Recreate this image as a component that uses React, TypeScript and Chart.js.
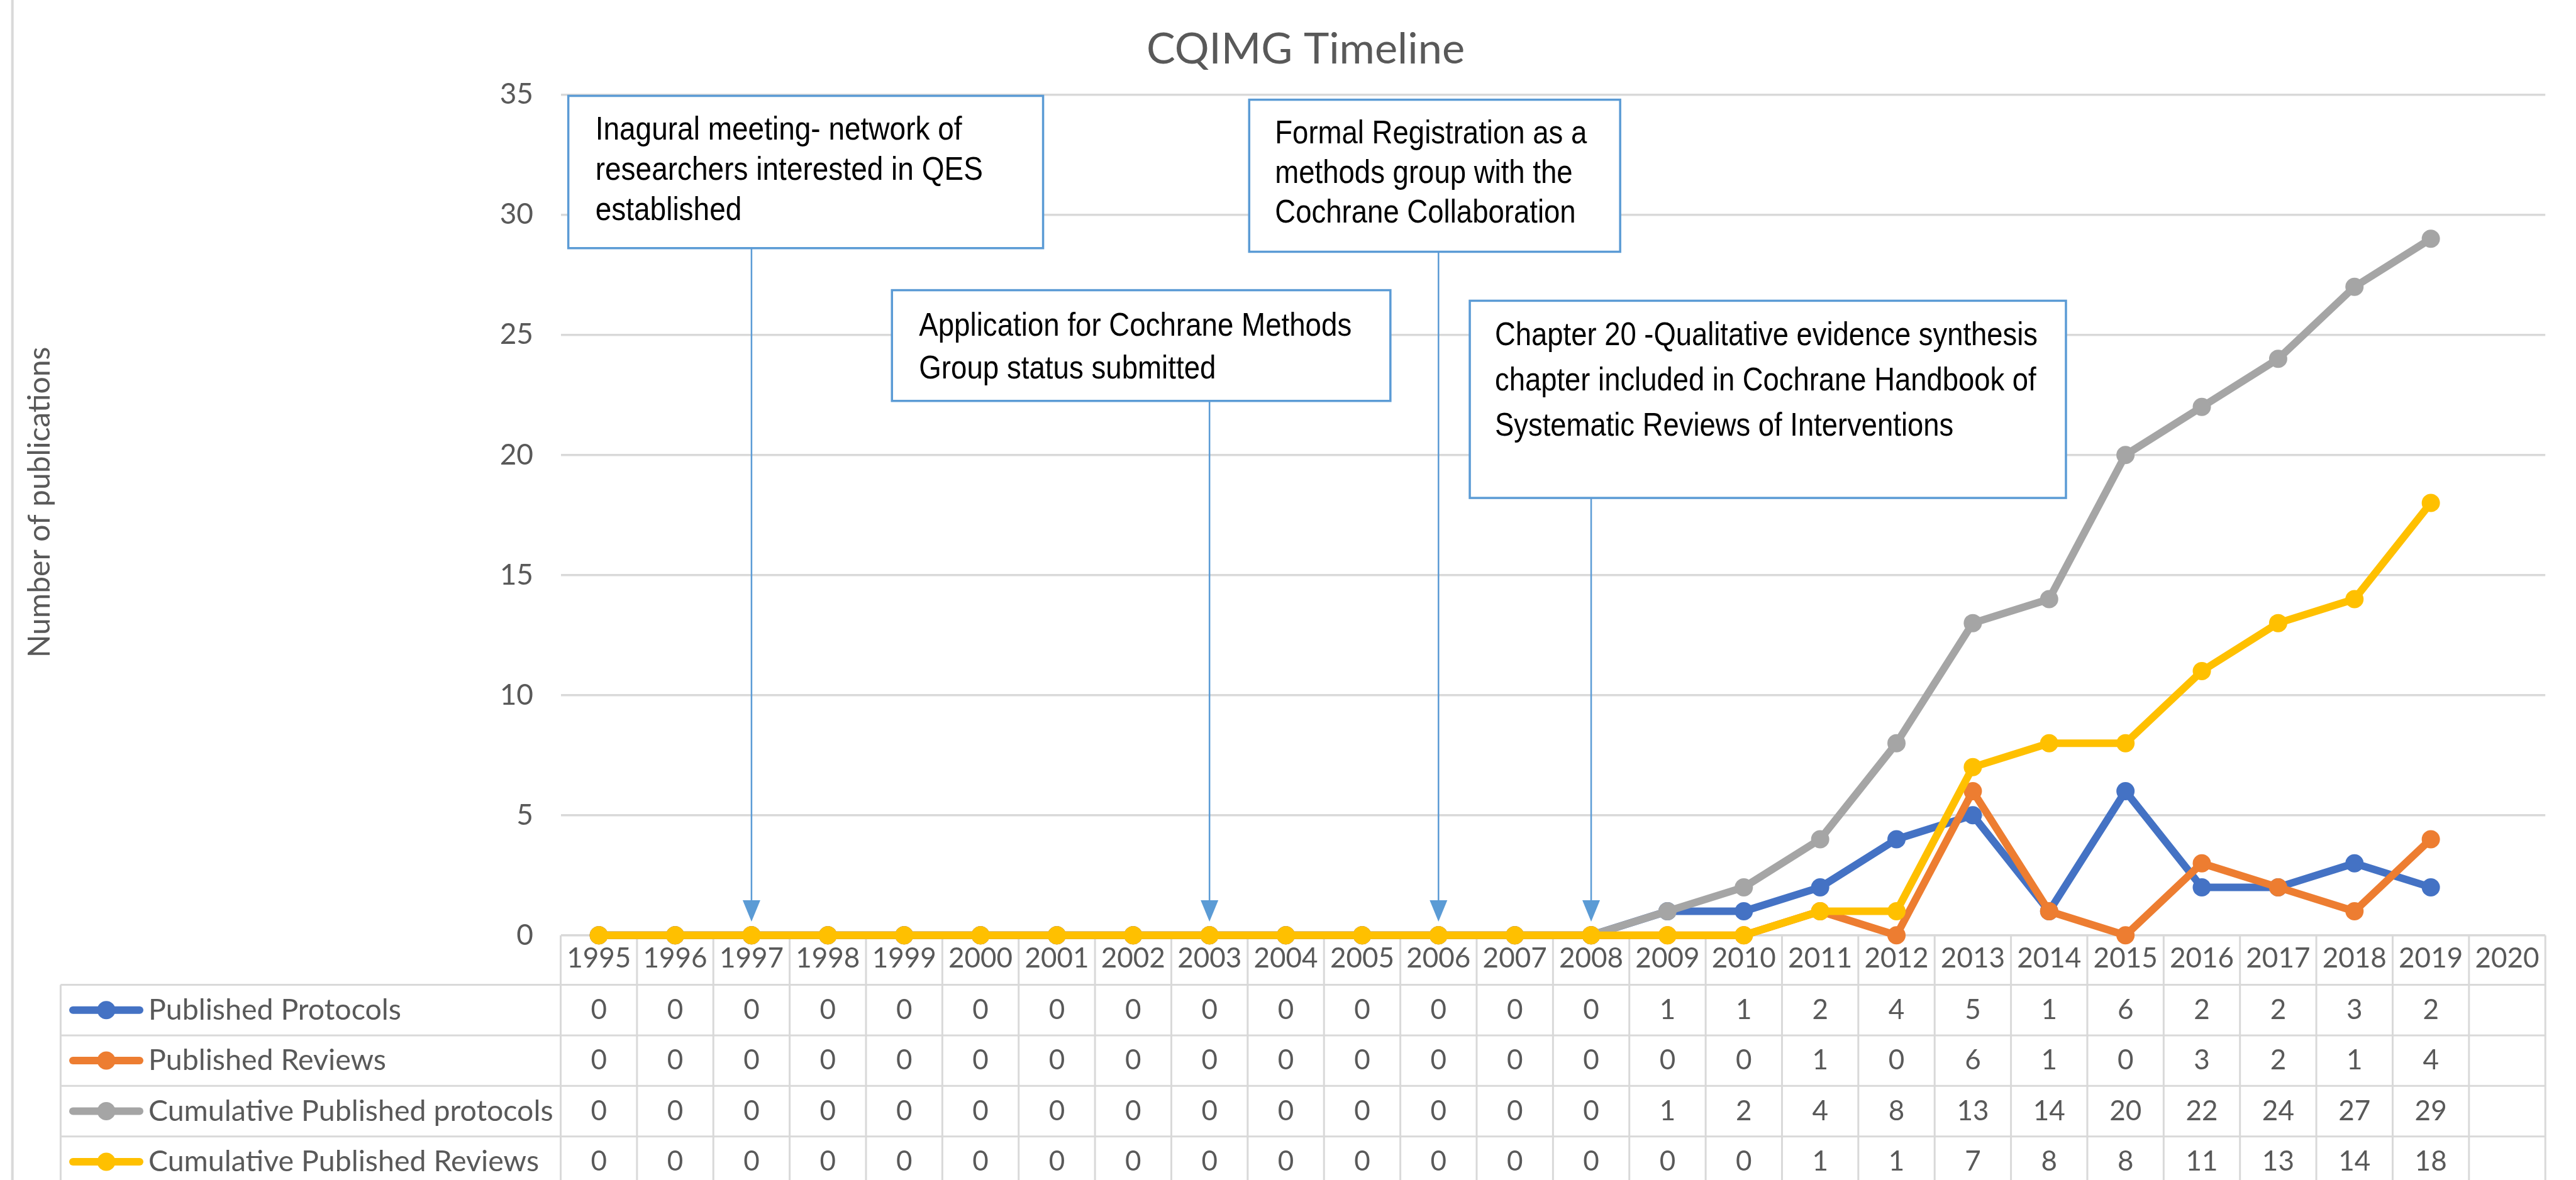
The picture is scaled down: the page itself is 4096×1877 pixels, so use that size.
import React, { useEffect, useRef } from 'react';
import { Chart, registerables } from 'chart.js';

Chart.register(...registerables);

// ---------- data ----------
const years = ['1995','1996','1997','1998','1999','2000','2001','2002','2003','2004','2005','2006','2007','2008','2009','2010','2011','2012','2013','2014','2015','2016','2017','2018','2019','2020'];
const publishedProtocols = [0,0,0,0,0,0,0,0,0,0,0,0,0,0,1,1,2,4,5,1,6,2,2,3,2];
const publishedReviews = [0,0,0,0,0,0,0,0,0,0,0,0,0,0,0,0,1,0,6,1,0,3,2,1,4];
const cumulativeProtocols = [0,0,0,0,0,0,0,0,0,0,0,0,0,0,1,2,4,8,13,14,20,22,24,27,29];
const cumulativeReviews = [0,0,0,0,0,0,0,0,0,0,0,0,0,0,0,0,1,1,7,8,8,11,13,14,18];
const seriesNames = ['Published Protocols','Published Reviews','Cumulative Published protocols','Cumulative Published Reviews'];
const seriesColors = ['#4472C4','#ED7D31','#A5A5A5','#FFC000'];
const yMin = 0;
const yMax = 35;
const yStep = 5;
const chartTitle = 'CQIMG Timeline';
const yAxisTitle = 'Number of publications';

const calloutYears = ['1997','2003','2006','2008'];
const calloutTexts = [
  ['Inagural meeting- network of','researchers interested in QES','established'],
  ['Application for Cochrane Methods','Group status submitted'],
  ['Formal Registration as a','methods group with the','Cochrane Collaboration'],
  ['Chapter 20 -Qualitative evidence synthesis','chapter included in Cochrane Handbook of','Systematic Reviews of Interventions'],
];

// ---------- layout / style (kept apart from the data) ----------
// box extents in axis units (category index, value); text offsets in px
const calloutBoxes = [
  { x0: -0.40, x1: 5.82, yTop: 34.95, yBottom: 28.61, firstLine: 55, lineGap: 64, padLeft: 43, fitWidth: 583 },
  { x0: 3.84, x1: 10.37, yTop: 26.86, yBottom: 22.25, firstLine: 58, lineGap: 68, padLeft: 43, fitWidth: 688 },
  { x0: 8.52, x1: 13.38, yTop: 34.79, yBottom: 28.46, firstLine: 55, lineGap: 63, padLeft: 41, fitWidth: 496 },
  { x0: 11.41, x1: 19.22, yTop: 26.42, yBottom: 18.21, firstLine: 56, lineGap: 72, padLeft: 40, fitWidth: 863 },
];
const arrowTipValue = 0.57;

const W = 4096;
const H = 1877;
const GRID = '#d9d9d9';
const TEXT = '#595959';
const BLUE = '#5b9bd5';
const FONT = 'Lato, "Open Sans", sans-serif';
const NARROW = '"Liberation Sans Narrow", "Liberation Sans", Arial, sans-serif';

const tableRowH = 80.4;
const tableHeaderH = 78.7;
const legendLeft = 96.4;

const drawTable = (chart: any) => {
  const ctx = chart.ctx;
  const xs = chart.scales.x;
  const area = chart.chartArea;
  const n = years.length;
  const cw = (area.right - area.left) / n;
  const headerBottom = area.bottom + tableHeaderH;
  ctx.save();
  ctx.strokeStyle = GRID;
  ctx.lineWidth = 3;
  for (let r = 0; r < seriesNames.length; r++) {
    const y = headerBottom + r * tableRowH;
    ctx.beginPath();
    ctx.moveTo(legendLeft, y);
    ctx.lineTo(area.right, y);
    ctx.stroke();
  }
  for (let i = 0; i <= n; i++) {
    const x = area.left + i * cw;
    ctx.beginPath();
    ctx.moveTo(x, area.bottom);
    ctx.lineTo(x, H);
    ctx.stroke();
  }
  ctx.beginPath();
  ctx.moveTo(legendLeft, headerBottom);
  ctx.lineTo(legendLeft, H);
  ctx.stroke();

  ctx.fillStyle = TEXT;
  ctx.font = `44px ${FONT}`;
  ctx.textAlign = 'center';
  ctx.textBaseline = 'middle';
  years.forEach((yr, i) => {
    ctx.fillText(yr, xs.getPixelForValue(i), area.bottom + 37);
  });

  chart.data.datasets.forEach((ds: any, r: number) => {
    const cy = headerBottom + r * tableRowH + tableRowH / 2;
    ctx.strokeStyle = ds.borderColor;
    ctx.lineWidth = 12;
    ctx.lineCap = 'round';
    ctx.beginPath();
    ctx.moveTo(116, cy);
    ctx.lineTo(222, cy);
    ctx.stroke();
    ctx.fillStyle = ds.borderColor;
    ctx.beginPath();
    ctx.arc(169, cy, 14.5, 0, Math.PI * 2);
    ctx.fill();
    ctx.lineCap = 'butt';
    ctx.fillStyle = TEXT;
    ctx.textAlign = 'left';
    ctx.font = `46.5px ${FONT}`;
    ctx.fillText(ds.label, 236, cy);
    ctx.font = `44px ${FONT}`;
    ctx.textAlign = 'center';
    ds.data.forEach((v: number, i: number) => {
      if (v === null || v === undefined) return;
      ctx.fillText(String(v), xs.getPixelForValue(i), cy);
    });
  });
  ctx.restore();
};

const drawArrows = (chart: any) => {
  const ctx = chart.ctx;
  const xs = chart.scales.x;
  const ys = chart.scales.y;
  ctx.save();
  ctx.strokeStyle = BLUE;
  ctx.fillStyle = BLUE;
  ctx.lineWidth = 2.5;
  calloutYears.forEach((yr, k) => {
    const b = calloutBoxes[k];
    const x = xs.getPixelForValue(years.indexOf(yr));
    const y0 = ys.getPixelForValue(b.yBottom);
    const tip = ys.getPixelForValue(arrowTipValue);
    ctx.beginPath();
    ctx.moveTo(x, y0);
    ctx.lineTo(x, tip - 30);
    ctx.stroke();
    ctx.beginPath();
    ctx.moveTo(x, tip);
    ctx.lineTo(x - 14, tip - 34);
    ctx.lineTo(x + 14, tip - 34);
    ctx.closePath();
    ctx.fill();
  });
  ctx.restore();
};

const drawBoxes = (chart: any) => {
  const ctx = chart.ctx;
  const xs = chart.scales.x;
  const ys = chart.scales.y;
  const cw = (chart.chartArea.right - chart.chartArea.left) / years.length;
  const x0px = xs.getPixelForValue(0);
  ctx.save();
  calloutBoxes.forEach((b, k) => {
    const left = x0px + b.x0 * cw;
    const right = x0px + b.x1 * cw;
    const top = ys.getPixelForValue(b.yTop);
    const bottom = ys.getPixelForValue(b.yBottom);
    ctx.fillStyle = '#ffffff';
    ctx.fillRect(left, top, right - left, bottom - top);
    ctx.strokeStyle = BLUE;
    ctx.lineWidth = 3.5;
    ctx.strokeRect(left, top, right - left, bottom - top);
    const lines = calloutTexts[k];
    ctx.font = `52px ${NARROW}`;
    ctx.fillStyle = '#000000';
    ctx.textAlign = 'left';
    ctx.textBaseline = 'middle';
    const w = ctx.measureText(lines[0]).width;
    const sx = Math.max(0.6, Math.min(1.4, b.fitWidth / w));
    lines.forEach((ln, i) => {
      ctx.save();
      ctx.translate(left + b.padLeft, top + b.firstLine + i * b.lineGap);
      ctx.scale(sx, 1);
      ctx.fillText(ln, 0, 0);
      ctx.restore();
    });
  });
  ctx.restore();
};

const drawFrame = (chart: any) => {
  const ctx = chart.ctx;
  ctx.save();
  ctx.strokeStyle = GRID;
  ctx.lineWidth = 4;
  ctx.beginPath();
  ctx.moveTo(19.7, 0);
  ctx.lineTo(19.7, H);
  ctx.stroke();
  ctx.fillStyle = TEXT;
  ctx.font = `68.5px ${FONT}`;
  ctx.textAlign = 'center';
  ctx.textBaseline = 'alphabetic';
  ctx.fillText(chartTitle, 2076, 101);
  ctx.translate(64, 799);
  ctx.rotate(-Math.PI / 2);
  ctx.font = `48px ${FONT}`;
  ctx.textBaseline = 'middle';
  ctx.fillText(yAxisTitle, 0, 0);
  ctx.restore();
};

const timelinePlugin = {
  id: 'cqimgTimeline',
  beforeDatasetsDraw(chart: any) {
    drawTable(chart);
    drawArrows(chart);
  },
  afterDraw(chart: any) {
    drawBoxes(chart);
    drawFrame(chart);
  },
};

export default function App() {
  const ref = useRef<HTMLCanvasElement | null>(null);
  useEffect(() => {
    document.body.style.margin = '0';
    const canvas = ref.current;
    if (!canvas) return;
    const series = [publishedProtocols, publishedReviews, cumulativeProtocols, cumulativeReviews];
    const orders = [3, 2, 1, 0];
    const chart = new Chart(canvas, {
      type: 'line',
      data: {
        labels: years,
        datasets: series.map((d, i) => ({
          label: seriesNames[i],
          data: d,
          borderColor: seriesColors[i],
          backgroundColor: seriesColors[i],
          pointBackgroundColor: seriesColors[i],
          pointBorderWidth: 0,
          pointRadius: 14.5,
          pointHoverRadius: 14.5,
          borderWidth: 12,
          borderJoinStyle: 'round',
          borderCapStyle: 'round',
          tension: 0,
          clip: false,
          order: orders[i],
        })) as any,
      },
      options: {
        responsive: false,
        animation: false,
        devicePixelRatio: 1,
        layout: { padding: { left: 0, top: 150.6, right: 48.8, bottom: 389.2 } },
        plugins: {
          legend: { display: false },
          title: { display: false },
          tooltip: { enabled: false },
        },
        scales: {
          x: { type: 'category', offset: true, display: false },
          y: {
            min: yMin,
            max: yMax,
            ticks: { stepSize: yStep, padding: 43.5, color: TEXT, font: { family: FONT, size: 46 } },
            grid: { color: GRID, lineWidth: 3.5, drawTicks: false },
            border: { display: false },
            afterFit: (s: any) => { s.width = 891.5; },
          },
        },
      } as any,
      plugins: [timelinePlugin],
    });
    return () => chart.destroy();
  }, []);
  return (
    <div style={{ width: W, height: H, background: '#fff' }}>
      <canvas ref={ref} width={W} height={H} style={{ display: 'block', width: W, height: H }} />
    </div>
  );
}
